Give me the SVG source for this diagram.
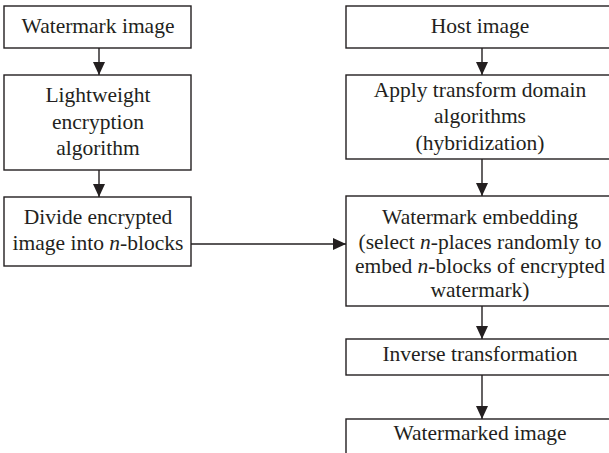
<svg xmlns="http://www.w3.org/2000/svg" width="609" height="453" viewBox="0 0 609 453">
<style>
.box{fill:#fff;stroke:#231f20;stroke-width:1.4}
.t{font-family:"Liberation Serif","Times New Roman",serif;font-size:21.5px;fill:#231f20;text-anchor:middle}
.c{stroke:#231f20;stroke-width:1.4;fill:none}
</style>
<defs>
<marker id="ah" viewBox="0 0 13 12" refX="13" refY="6" markerWidth="13" markerHeight="12" markerUnits="userSpaceOnUse" orient="auto">
<path d="M0,0 L13,6 L0,12 z" fill="#231f20"/>
</marker>
</defs>
<rect width="609" height="453" fill="#fff"/>
<g id="connectors">
<line class="c" x1="99" y1="48" x2="99" y2="75" marker-end="url(#ah)"/>
<line class="c" x1="99" y1="170" x2="99" y2="197" marker-end="url(#ah)"/>
<line class="c" x1="191" y1="244" x2="346" y2="244" marker-end="url(#ah)"/>
<line class="c" x1="482" y1="48" x2="482" y2="75" marker-end="url(#ah)"/>
<line class="c" x1="482" y1="159" x2="482" y2="196" marker-end="url(#ah)"/>
<line class="c" x1="482" y1="306" x2="482" y2="339" marker-end="url(#ah)"/>
<line class="c" x1="482" y1="375" x2="482" y2="419" marker-end="url(#ah)"/>
</g>
<g id="watermark-image">
<rect class="box" x="4" y="6" width="187" height="42"/>
<text class="t" x="98" y="33">Watermark image</text>
</g>
<g id="lightweight-encryption">
<rect class="box" x="4" y="75" width="187" height="95"/>
<text class="t" x="98" y="102">Lightweight</text>
<text class="t" x="98" y="128.5">encryption</text>
<text class="t" x="98" y="155">algorithm</text>
</g>
<g id="divide-blocks">
<rect class="box" x="4" y="197" width="187" height="69"/>
<text class="t" x="98" y="224">Divide encrypted</text>
<text class="t" x="98" y="250">image into <tspan font-style="italic">n</tspan>-blocks</text>
</g>
<g id="host-image">
<rect class="box" x="346" y="6" width="268" height="42"/>
<text class="t" x="480" y="33">Host image</text>
</g>
<g id="transform-domain">
<rect class="box" x="346" y="75" width="268" height="84"/>
<text class="t" x="480" y="97">Apply transform domain</text>
<text class="t" x="480" y="123">algorithms</text>
<text class="t" x="480" y="150">(hybridization)</text>
</g>
<g id="watermark-embedding">
<rect class="box" x="346" y="196" width="268" height="110"/>
<text class="t" x="480" y="224">Watermark embedding</text>
<text class="t" x="480" y="249">(select <tspan font-style="italic">n</tspan>-places randomly to</text>
<text class="t" x="480" y="273">embed <tspan font-style="italic">n</tspan>-blocks of encrypted</text>
<text class="t" x="480" y="297">watermark)</text>
</g>
<g id="inverse-transformation">
<rect class="box" x="346" y="339" width="268" height="36"/>
<text class="t" x="480" y="361">Inverse transformation</text>
</g>
<g id="watermarked-image">
<rect class="box" x="346" y="419" width="268" height="60"/>
<text class="t" x="480" y="440">Watermarked image</text>
</g>
</svg>
